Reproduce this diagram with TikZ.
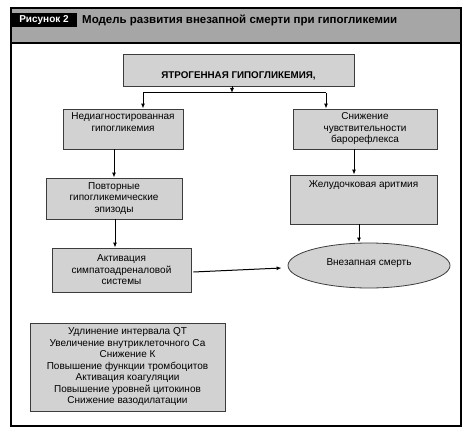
\documentclass[tikz,border=0pt]{standalone}
\usepackage{fontspec}
\setmainfont{Liberation Sans}
\usetikzlibrary{arrows.meta,positioning,shapes.geometric}
\definecolor{hdgray}{RGB}{166,166,166}
\definecolor{boxgray}{RGB}{210,210,210}
\definecolor{edgegray}{RGB}{60,60,60}

\tikzset{
  stagebox/.style={draw=edgegray,fill=boxgray,line width=0.8pt,align=center,inner sep=3pt,
    font=\fontsize{10}{11.5}\selectfont},
  flow/.style={-{Latex[length=5pt,width=4pt]},line width=1pt}
}

\begin{document}
\begin{tikzpicture}[x=1pt,y=-1pt]
      \useasboundingbox (0,0) rectangle (474,441);
      % frame and header
      \fill[hdgray] (11,8) rectangle (461,43);
      \draw[line width=1.6pt] (11,8) rectangle (461,426);
      \draw[line width=1.6pt] (11,43) -- (461,43);
      \node[fill=black,text=white,font=\fontsize{10}{12}\selectfont\bfseries,minimum width=66pt,minimum height=14pt,inner sep=1pt]
            (fig) at (44,20) {Рисунок 2};
      \node[anchor=west,font=\fontsize{11.5}{13}\selectfont\bfseries,inner sep=0pt]
            (title) at (82,20) {Модель развития внезапной смерти при гипогликемии};
      % boxes
      \node[stagebox,minimum width=231pt,minimum height=32pt,inner ysep=3pt,text height=22pt,text depth=4pt,
            font=\fontsize{9.8}{11}\selectfont\bfseries]
            (iatro) at (238.5,70) {ЯТРОГЕННАЯ ГИПОГЛИКЕМИЯ,};
      \node[stagebox,minimum width=120pt,minimum height=40pt,text depth=14pt]
            (undiag) at (123,129) {Недиагностированная\\гипогликемия};
      \node[stagebox,minimum width=136pt,minimum height=41pt]
            (repeat) at (114,198.5) {Повторные\\гипогликемические\\эпизоды};
      \node[stagebox,minimum width=139pt,minimum height=44pt]
            (sympa) at (121.5,270) {Активация\\симпатоадреналовой\\системы};
      \node[stagebox,minimum width=144pt,minimum height=40pt]
            (baro) at (365,129) {Снижение\\чувствительности\\барорефлекса};
      \node[stagebox,minimum width=147pt,minimum height=49pt,inner ysep=4pt,text height=8pt,text depth=33pt]
            (arrhy) at (363.5,199.5) {Желудочковая аритмия};
      \node[stagebox,ellipse,minimum width=162pt,minimum height=45pt,text depth=6pt]
            (death) at (369,265.5) {Внезапная смерть};
      \node[stagebox,minimum width=195pt,minimum height=88pt]
            (effects) at (127.5,367) {Удлинение интервала QT\\Увеличение внутриклеточного Са\\Снижение К\\Повышение функции тромбоцитов\\Активация коагуляции\\Повышение уровней цитокинов\\Снижение вазодилатации};
      % connectors
      \coordinate (split) at (232,93);
      \coordinate (splitl) at (143,93);
      \coordinate (splitr) at (326,93);
      \draw[flow] (split |- iatro.south) -- (split);
      \draw[line width=1pt] (splitl) -- (splitr);
      \draw[flow] (splitl) -- (splitl |- undiag.north);
      \draw[flow] (splitr) -- (splitr |- baro.north);
      \draw[flow] (repeat.north |- undiag.south) -- (repeat.north);
      \draw[flow] ([xshift=1pt]repeat.south) -- ([xshift=1pt]repeat.south |- sympa.north);
      \draw[flow] ([xshift=-11pt]baro.south) -- ([xshift=-11pt]baro.south |- arrhy.north);
      \draw[flow] ([xshift=-4.5pt]arrhy.south) -- ([xshift=-4.5pt]arrhy.south |- death.north);
      \draw[flow] ([xshift=2pt,yshift=-2pt]sympa.east) -- ([xshift=-6pt,yshift=-2.5pt]death.west);
\end{tikzpicture}
\end{document}
